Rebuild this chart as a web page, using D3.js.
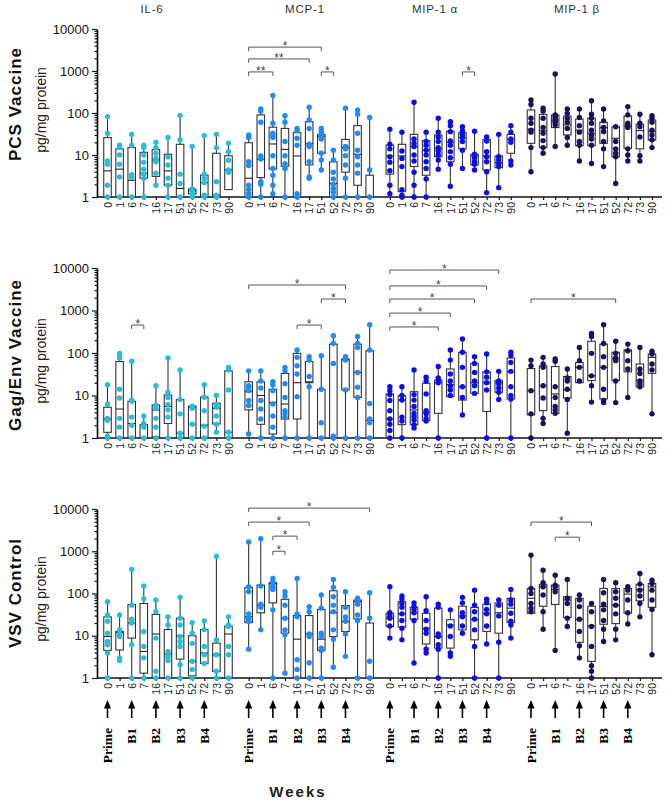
<!DOCTYPE html>
<html>
<head>
<meta charset="utf-8">
<script src="https://cdn.jsdelivr.net/npm/d3@7"></script>
<style>
body { margin: 0; background: #fff; }
svg { display: block; font-family: "Liberation Sans", Arial, sans-serif; }
</style>
</head>
<body>
<div id="chart"></div>
<script>

// ---- categories ----
const timepoints = ["0", "1", "6", "7", "16", "17", "51", "52", "72", "73", "90"];
const cytokines = ["IL-6", "MCP-1", "MIP-1 α", "MIP-1 β"];
const panelNames = ["PCS Vaccine", "Gag/Env Vaccine", "VSV Control"];
const boostNames = ["Prime", "B1", "B2", "B3", "B4"];
const boostWeeks = ["0", "6", "16", "51", "72"];
const yMajor = [1, 10, 100, 1000, 10000];

// ---- PCS vaccine : box [q1, median, q3] and single animals (pg/mg protein) ----
const pcsIL6Box = [[1,4.2,26],[1,4.6,14],[1,2.5,15],[2.8,3.7,11.6],[3.1,7.6,13.4],[1.9,4.2,10.4],[1,1.6,18],[1.18,1.4,1.55],[1,2.2,3.3],[1,1.1,11],[1.5,4.4,9.6]];
const pcsIL6Pts = [[82,33,7.2,6,1.9,1],[17,15,10,6,3,1],[31,17,3.4,3,1],[17,15,10,6.7,4.6,3.5,2.8,1],[20,15,11,8.3,6.9,3.7,1.9],[26,9,5.8,2.8,1.9,1],[88,23,3.5,2.1,1],[16,1.55,1.4,1.2,1],[29,3.5,2.8,2.2,1.1,1],[31,15,2.3,1.1,1],[19,12,7.5,4.4,3.9]];
const pcsMCP1Box = [[1,2.8,19.6],[2.9,7.9,90],[4.6,18.3,46],[5.4,13.6,43],[1,9.5,34],[5.8,18.6,62],[11,28,31],[1,2.1,6.9],[3.9,15,23.5],[1.9,10.4,50],[1,null,3.3]];
const pcsMCP1Pts = [[30,26,6.9,5.6,1.9,1.5,1.2,1],[125,112,60,9.5,8,2.3,2,1],[260,57,33,29,26,9.6,4.8,3.3,1.9,1.2],[86,60,21,9.6,6.2,4.8,1],[43,38,25,17,1.2,1],[137,68,43,18,16,6.9,3,2.8],[43,36,31,27,24,11,7.6,4.4],[13,7.6,3.9,2.7,2,1.6,1.3,1],[130,16,14,9.6,5.8,2.8,1],[118,93,33,13,9.1,5.8,3.7,1],[78,4.4,1]];
const pcsMIP1aBox = [[3.5,9.5,17.3],[1.34,9.5,18],[5.3,15.8,31],[3.3,13,22],[9.1,14,30],[6.9,20,37],[14,26,34],[5.8,9.5,10.4],[4.4,9.5,23.5],[5,6.6,9.5],[11,23.6,31]];
const pcsMIP1aPts = [[41,18,14,9.1,6.7,4.2,1.9,1.2],[35,12.5,8.3,5.3,1.5,1.1,1],[180,24,19,16,10,7.2,3.9,1.9,1],[35,21,17,13,10,6.9,4.8,2.7,1],[75,35,27,21,15,12.5,10,7.6,4.6],[62,50,36,21.5,17,12,8.6,6,1.8],[47,38,31,26,21,13,4.8],[37,10.4,8.6,6.9,6,4.4],[27,21.6,12,9.1,6.9,4,1.27],[31,9.1,7.6,6.3,5.3,1.67],[50,35,24,20,7.2,5.8]];
const pcsMIP1bBox = [[19,41,118],[15,38,93],[45,68,90],[30,52,85],[16.7,39,72],[16.7,33,75],[19,45,60],[9.1,25,47],[14.4,49,85],[14,38,54],[22.6,36,68]];
const pcsMIP1bPts = [[204,160,75,57,39,35,15,4],[130,112,75,45,33,22,15,11],[850,90,82,75,64,60,52,16],[125,98,75,60,43,26,17],[125,78,50,35,21,17,7.2],[196,93,75,57,39,30,24,17,6.3],[125,65,45,36,21,14,5.3],[47,21,14,11,9.1,2.1],[142,90,57,50,45,14,10,7.2],[93,57,47,27,9.6,7.2],[86,75,60,39,30,23,15]];

// ---- Gag/Env vaccine ----
const gagIL6Box = [[1.36,2.8,5.3],[1,4.8,63],[1,2.2,7.3],[1,null,2.06],[1.07,4.55,6],[2.2,5.5,10.3],[1,1.3,8],[1,5.3,5.6],[1,2,9.2],[2.14,5,6.6],[1,1.36,38]];
const gagIL6Pts = [[18,6.3,2.9,2.6,1.1,1],[98,86,76,14,8.7,2.9,1.8,1],[64,7.8,7.3,3.1,2,1],[3.3,2.2,1.8,1],[17,5.8,5,2.9,1.8,1],[76,12,9,6.1,4.6,3.1,1],[40,8,3.7,1.3,1],[5.6,5,2.1,1],[18,9.1,4.4,1.9,1],[10,6.1,5.3,3.3,2.1,1.36],[46,40,13.5,1.36,1]];
const gagMCP1Box = [[4.6,12.3,21],[2.1,10,21],[1.24,6.9,14],[2.8,6.3,33],[2.8,20,98],[20,21,63],[1,null,14],[1,null,162],[13.5,70,72],[9,35,162],[1,2.6,113]];
const gagMCP1Pts = [[38,17,15,13,7.6,5.8,1.24],[38,22,15,7.6,4.8,2.8,1],[21,18,13,6.3,3.3,1.8,1],[46,38,19,9,4.4,3.7,3.1,1],[118,79,50,32,9.4,1],[82,68,28,16,1],[86,14,2.3,1],[256,167,57,1.1,1],[82,76,68,13.5,1],[245,167,135,35,15.6,9,1],[465,118,6.5,2.8,2.3,1]];
const gagMIP1aBox = [[1,2.8,10.9],[2.06,7.8,9.9],[2.06,4.55,12.3],[2.56,4,19.4],[3.8,20,23],[9.4,18,42],[7.8,16,104],[11.2,20,57],[4.2,20,36],[11.9,20,22.4],[8.3,36,76]];
const gagMIP1aPts = [[16,13,10.5,7.6,4.4,2.8,2.1,1.5,1],[16,10,7.8,3.1,2.5,1],[40,10.5,7.8,5.5,3.8,3.2,2.65,2.06,1.72],[27,22,10.9,4.4,3.7,2.9,2.5],[48,26,23,20,1],[118,68,32,22,17,13.5,10],[214,104,46,16,9,3.5],[82,57,35,22,17,11.2],[95,36,27,20,13.5,1],[37,22,19,15,12,8.1],[104,87,60,37,16,10,8.3,1]];
const gagMIP1bBox = [[3.5,13,43],[4.4,17,50],[3.8,10.9,48],[8.7,13.5,28],[20,46,60],[22.4,29,189],[8.3,46,162],[22.4,73,104],[36,113,118],[16,23,55],[33,79,95]];
const gagMIP1bPts = [[68,50,13,3.7,1],[79,55,46,17,8.7,2.9,2.2],[72,64,16,9,5.5,4.6,3.8],[42,26,22,14,8.1,1.3],[135,66,46,22],[290,245,98,29,17,7],[465,167,82,46,14,7.6,6.8],[189,98,76,66,22,6.8],[162,113,66,42,9],[135,42,33,22,19,16],[110,95,55,40,3.7]];

// ---- VSV control ----
const vsvIL6Box = [[4.5,9.6,28],[4.6,12,12.6],[8.8,20,55],[1.3,4.25,58],[1,11,32],[1,3.7,14],[2.8,9.9,26],[1.13,2.47,10],[2.2,3.9,14],[1.44,3.55,6.7],[1,11,17]];
const vsvIL6Pts = [[64,31,22,11.5,7.3,6.1,3.9,1],[31,13.8,11.5,9.6,3,2.6],[370,53,24.5,20,6.1,1],[150,75,12.6,5.6,3,1],[70,37,8.8,1.44,1],[28,18,4.25,3.2,2.6,1],[81,26,18,9.6,7.3,5.6,2.1,1],[20.5,11.5,6.6,2.5,1.6,1],[22.5,14,5.6,3.55,2.2],[760,8,3.55,1.44,1],[28,18,16.5,5.6,3.55,1]];
const vsvMCP1Box = [[20.5,28,140],[35,53,158],[60,170,180],[11.5,26,73],[1,8.3,30],[1,11,30],[4.5,8.3,42],[9.6,35,116],[12.6,21.7,52],[25,64,70],[1,null,20]];
const vsvMCP1Pts = [[1650,144,111,33,26,22,4.8],[1970,150,56,47,13.8],[227,190,158,140,125,41,1],[110,87,53,26,13.8,10.5,1.3],[227,33,28,2.7,1.6,1],[49,37,11,9.6,2.3,1],[92,45,11.5,9.6,5.1,4.5,1],[215,140,84,53,37,13.8,8.3,1.8],[110,47,28,22,11,3.25],[77,70,56,31,23,1],[104,26,2.5,1]];
const vsvMIP1aBox = [[16.5,26,34],[16,33,64],[24.5,35,47],[6.4,15,34],[5.1,9.6,45],[5.1,18,24],[13.8,29.5,50],[8,24,47],[12.6,34,56],[11.5,35,60],[20.5,45,77]];
const vsvMIP1aPts = [[144,35,29.5,26,17,8.8],[87,73,58,47,33,23,15,8],[60,50,42,35,23,2.26],[84,39,23,14.3,11.5,4.8,3.9],[56,47,11,9.6,6.1,4.8,1],[41,17,9.6,3.9,3.25],[81,60,35,28,17,11.5],[120,53,37,24.5,13.8,5.6,1],[73,60,42,33,17,6.4],[70,53,29.5,7,1],[125,70,56,34,22,18,8.8]];
const vsvMIP1bBox = [[34,77,132],[50,144,165],[55,125,158],[27,70,84],[7,24.5,77],[2.47,17,50],[18.7,49,132],[19.4,53,132],[34,97,132],[67,125,165],[47,144,173]];
const vsvMIP1bPts = [[810,132,100,58,45,37],[356,180,144,92,37,14.3],[272,158,144,110,4.5],[215,77,58,26,16.5],[92,70,49,24.5,12.6,5.8,3],[58,37,16.5,5.6,1.95,1.44,1],[215,104,56,41,23,14.3,7.3],[180,110,77,53,33,14.3,8],[144,120,70,35,19],[297,167,120,87,58,28],[207,173,120,70,42,3.55]];

// ---- significance brackets : [cytokine, from week index, to week index, label, height in pg/mg] ----
const pcsSig = [[1,0,6,"*",3700],[1,0,5,"**",1940],[1,0,2,"**",950],[1,6,7,"*",950],[2,6,7,"*",950]];
const gagSig = [[0,2,3,"*",455],[1,0,8,"*",3980],[1,6,8,"*",1860],[1,4,6,"*",455],[2,0,9,"*",8960],[2,0,8,"*",3780],[2,0,7,"*",1860],[2,0,5,"*",870],[2,0,4,"*",410],[3,0,7,"*",1860]];
const vsvSig = [[1,0,10,"*",10500],[1,0,5,"*",4900],[1,2,4,"*",2280],[1,2,3,"*",1000],[3,0,5,"*",4900],[3,2,4,"*",2150]];

const panelBoxes = [[pcsIL6Box, pcsMCP1Box, pcsMIP1aBox, pcsMIP1bBox],
                    [gagIL6Box, gagMCP1Box, gagMIP1aBox, gagMIP1bBox],
                    [vsvIL6Box, vsvMCP1Box, vsvMIP1aBox, vsvMIP1bBox]];
const panelPts = [[pcsIL6Pts, pcsMCP1Pts, pcsMIP1aPts, pcsMIP1bPts],
                  [gagIL6Pts, gagMCP1Pts, gagMIP1aPts, gagMIP1bPts],
                  [vsvIL6Pts, vsvMCP1Pts, vsvMIP1aPts, vsvMIP1bPts]];
const panelSig = [pcsSig, gagSig, vsvSig];

// ---- layout ----
const WIDTH = 669, HEIGHT = 807;
const AXIS_X = 97, AXIS_END = 662;
const PANEL_TOP = [29, 268, 509];
const PANEL_BOTTOM = [197, 438, 678];
const PANEL_MID = [104, 355, 593];
const TITLE_X = [152, 305, 435, 577];
const COLORS = ["#27bddc", "#1f8bfb", "#0d0cf0", "#1e0f5e"];
const BOX_W = 7.5;

const fScale_Group = d3.scaleLinear().domain([0, 3]).range([107.5, 531]);

function funcSlot(g) {
	let x0 = fScale_Group(g);
	return d3.scalePoint().domain(timepoints).range([x0, x0 + 121]);
}

let svgMain = d3.select("#chart").append("svg")
	.attr("width", WIDTH)
	.attr("height", HEIGHT);

// cytokine titles
cytokines.forEach(function(c, i) {
	svgMain.append("text")
		.attr("x", TITLE_X[i])
		.attr("y", 13)
		.attr("text-anchor", "middle")
		.attr("font-size", "11.5px")
		.attr("letter-spacing", "0.8px")
		.attr("fill", "#333")
		.text(c);
});

function funcDraw_Panel(p) {

	let fScale_Y = d3.scaleLog().domain([1, 10000]).range([PANEL_BOTTOM[p], PANEL_TOP[p]]);
	let gPanel = svgMain.append("g").attr("class", "panel_" + p);

	// titles on the left
	gPanel.append("text")
		.attr("transform", "translate(21," + PANEL_MID[p] + ") rotate(-90)")
		.attr("text-anchor", "middle")
		.attr("font-size", "17px")
		.attr("font-weight", "bold")
		.attr("letter-spacing", "1px")
		.attr("fill", "#111")
		.text(panelNames[p]);

	gPanel.append("text")
		.attr("transform", "translate(46," + (PANEL_MID[p] + 6) + ") rotate(-90)")
		.attr("text-anchor", "middle")
		.attr("font-size", "14px")
		.attr("fill", "#222")
		.text("pg/mg protein");

	// y axis
	let minor = [];
	for (let e = 0; e < 4; e++)
		for (let k = 2; k <= 9; k++) minor.push(k * Math.pow(10, e));

	let gMinor = gPanel.append("g")
		.attr("transform", "translate(" + AXIS_X + ",0)")
		.call(d3.axisLeft(fScale_Y).tickValues(minor).tickSize(2.5).tickFormat(""));
	gMinor.select(".domain").remove();

	let gY = gPanel.append("g")
		.attr("transform", "translate(" + AXIS_X + ",0)")
		.call(d3.axisLeft(fScale_Y).tickValues(yMajor).tickFormat(d3.format("d")).tickSize(5).tickSizeOuter(0));
	gY.selectAll("text").attr("font-size", "13px").attr("fill", "#111").attr("font-family", "'Liberation Sans', Arial, sans-serif");
	gY.select(".domain").attr("stroke-width", 1.6);
	gPanel.selectAll(".tick line").attr("stroke", "#111").attr("stroke-width", 1.2);

	// baseline
	gPanel.append("line")
		.attr("x1", AXIS_X).attr("x2", AXIS_END)
		.attr("y1", PANEL_BOTTOM[p]).attr("y2", PANEL_BOTTOM[p])
		.attr("stroke", "#111").attr("stroke-width", 1.6);

	for (let g = 0; g < 4; g++) {

		let fScale_X = funcSlot(g);

		let gX = gPanel.append("g")
			.attr("transform", "translate(0," + PANEL_BOTTOM[p] + ")")
			.call(d3.axisBottom(fScale_X).tickSize(3));
		gX.select(".domain").remove();
		gX.selectAll(".tick line").attr("stroke", "#111").attr("stroke-width", 1.2);
		gX.selectAll("text")
			.attr("transform", "rotate(-90)")
			.attr("text-anchor", "end")
			.attr("x", -5)
			.attr("y", 0)
			.attr("dy", "0.35em")
			.attr("font-size", "10.5px")
			.attr("fill", "#222")
			.attr("font-family", "'Liberation Sans', Arial, sans-serif");

		let vBox = panelBoxes[p][g];
		let vPts = panelPts[p][g];

		let gBoxes = gPanel.selectAll("g.box_" + g)
			.data(timepoints)
			.enter()
				.append("g")
					.attr("class", "box_" + g);

		// whiskers
		gBoxes.append("line")
			.attr("x1", function(d) { return fScale_X(d); })
			.attr("x2", function(d) { return fScale_X(d); })
			.attr("y1", function(d, i) { return fScale_Y(Math.max(vBox[i][2], d3.max(vPts[i]))); })
			.attr("y2", function(d, i) { return fScale_Y(Math.min(vBox[i][0], d3.min(vPts[i]))); })
			.attr("stroke", "#333")
			.attr("stroke-width", 1.1);

		// box
		gBoxes.append("rect")
			.attr("x", function(d) { return fScale_X(d) - BOX_W / 2; })
			.attr("y", function(d, i) { return fScale_Y(vBox[i][2]); })
			.attr("width", BOX_W)
			.attr("height", function(d, i) { return Math.max(1, fScale_Y(vBox[i][0]) - fScale_Y(vBox[i][2])); })
			.attr("fill", "#fff")
			.attr("stroke", "#333")
			.attr("stroke-width", 1.1);

		// median
		gBoxes.filter(function(d, i) { return vBox[i][1] != null; })
			.append("line")
				.attr("x1", function(d) { return fScale_X(d) - BOX_W / 2; })
				.attr("x2", function(d) { return fScale_X(d) + BOX_W / 2; })
				.attr("y1", function(d) { return fScale_Y(vBox[timepoints.indexOf(d)][1]); })
				.attr("y2", function(d) { return fScale_Y(vBox[timepoints.indexOf(d)][1]); })
				.attr("stroke", "#222")
				.attr("stroke-width", 1.1);

		// single values
		gBoxes.selectAll("circle")
			.data(function(d, i) { return vPts[i].map(function(v) { return { t: d, v: v }; }); })
			.enter()
				.append("circle")
					.attr("cx", function(d) { return fScale_X(d.t); })
					.attr("cy", function(d) { return fScale_Y(d.v); })
					.attr("r", 2.7)
					.attr("fill", COLORS[g]);
	}

	// significance brackets
	panelSig[p].forEach(function(s) {
		let fScale_X = funcSlot(s[0]);
		let x1 = fScale_X(timepoints[s[1]]);
		let x2 = fScale_X(timepoints[s[2]]);
		let yy = fScale_Y(s[4]);

		gPanel.append("path")
			.attr("d", "M" + x1 + "," + (yy + 4) + "V" + yy + "H" + x2 + "V" + (yy + 4))
			.attr("fill", "none")
			.attr("stroke", "#555")
			.attr("stroke-width", 1);

		gPanel.append("text")
			.attr("x", (x1 + x2) / 2)
			.attr("y", yy + 3)
			.attr("text-anchor", "middle")
			.attr("font-size", "12px")
			.attr("fill", "#444")
			.text(s[3]);
	});
}

for (let p = 0; p < 3; p++) funcDraw_Panel(p);

// ---- immunisation arrows + labels ----
for (let g = 0; g < 4; g++) {

	let fScale_X = funcSlot(g);

	boostWeeks.forEach(function(w, k) {
		let x = fScale_X(w);

		svgMain.append("line")
			.attr("x1", x).attr("x2", x)
			.attr("y1", 718).attr("y2", 706)
			.attr("stroke", "#000")
			.attr("stroke-width", 1.6);

		svgMain.append("path")
			.attr("d", "M" + x + ",700L" + (x - 3.6) + ",708.5L" + (x + 3.6) + ",708.5Z")
			.attr("fill", "#000");

		svgMain.append("text")
			.attr("transform", "translate(" + (x + 4.5) + ",728) rotate(-90)")
			.attr("text-anchor", "end")
			.attr("font-family", "'Liberation Serif', 'Times New Roman', serif")
			.attr("font-weight", "bold")
			.attr("font-size", "13.5px")
			.attr("fill", "#000")
			.text(boostNames[k]);
	});
}

svgMain.append("text")
	.attr("x", 298)
	.attr("y", 797)
	.attr("text-anchor", "middle")
	.attr("font-family", "'Liberation Sans Narrow', 'Liberation Sans', Arial, sans-serif")
	.attr("font-weight", "bold")
	.attr("font-size", "15px")
	.attr("letter-spacing", "2px")
	.attr("fill", "#222")
	.text("Weeks");

</script>
</body>
</html>
